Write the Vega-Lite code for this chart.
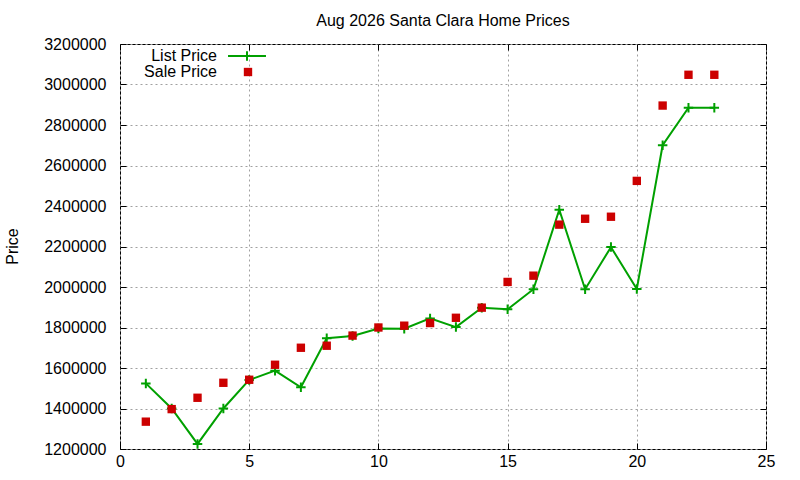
{
  "$schema": "https://vega.github.io/schema/vega-lite/v6.json",
  "autosize": {"type": "none"},
  "padding": {"left": 120, "top": 44, "right": 34, "bottom": 31},
  "width": 646,
  "height": 405,
  "background": "white",
  "config": {
    "font": "Liberation Sans",
    "view": {"stroke": "black", "strokeWidth": 1},
    "axis": {
      "labelFont": "Liberation Sans", "labelFontSize": 16, "labelColor": "black",
      "titleFont": "Liberation Sans", "titleFontSize": 16, "titleColor": "black", "titleFontWeight": "normal",
      "domain": false, "tickColor": "black", "tickSize": -6, "tickWidth": 1,
      "gridColor": "#a0a0a0", "gridDash": [2, 3], "gridWidth": 1
    },
    "legend": {"labelFont": "Liberation Sans", "labelFontSize": 16, "labelColor": "black", "padding": 0, "offset": 0}
  },
  "title": {"text": "Aug 2026 Santa Clara Home Prices", "font": "Liberation Sans", "fontSize": 16, "fontWeight": "normal", "color": "black", "anchor": "middle", "offset": 7},
  "data": {"values": [
    {"x": 1, "price": 1524000, "series": "List Price"},
    {"x": 2, "price": 1400000, "series": "List Price"},
    {"x": 3, "price": 1225000, "series": "List Price"},
    {"x": 4, "price": 1400000, "series": "List Price"},
    {"x": 5, "price": 1541000, "series": "List Price"},
    {"x": 6, "price": 1587000, "series": "List Price"},
    {"x": 7, "price": 1505000, "series": "List Price"},
    {"x": 8, "price": 1747000, "series": "List Price"},
    {"x": 9, "price": 1758000, "series": "List Price"},
    {"x": 10, "price": 1795000, "series": "List Price"},
    {"x": 11, "price": 1794000, "series": "List Price"},
    {"x": 12, "price": 1845000, "series": "List Price"},
    {"x": 13, "price": 1802000, "series": "List Price"},
    {"x": 14, "price": 1898000, "series": "List Price"},
    {"x": 15, "price": 1890000, "series": "List Price"},
    {"x": 16, "price": 1989000, "series": "List Price"},
    {"x": 17, "price": 2382000, "series": "List Price"},
    {"x": 18, "price": 1989000, "series": "List Price"},
    {"x": 19, "price": 2197000, "series": "List Price"},
    {"x": 20, "price": 1990000, "series": "List Price"},
    {"x": 21, "price": 2700000, "series": "List Price"},
    {"x": 22, "price": 2885000, "series": "List Price"},
    {"x": 23, "price": 2885000, "series": "List Price"},
    {"x": 1, "price": 1335000, "series": "Sale Price"},
    {"x": 2, "price": 1397000, "series": "Sale Price"},
    {"x": 3, "price": 1453000, "series": "Sale Price"},
    {"x": 4, "price": 1527000, "series": "Sale Price"},
    {"x": 5, "price": 1542000, "series": "Sale Price"},
    {"x": 6, "price": 1616000, "series": "Sale Price"},
    {"x": 7, "price": 1700000, "series": "Sale Price"},
    {"x": 8, "price": 1710000, "series": "Sale Price"},
    {"x": 9, "price": 1760000, "series": "Sale Price"},
    {"x": 10, "price": 1800000, "series": "Sale Price"},
    {"x": 11, "price": 1809000, "series": "Sale Price"},
    {"x": 12, "price": 1822000, "series": "Sale Price"},
    {"x": 13, "price": 1848000, "series": "Sale Price"},
    {"x": 14, "price": 1898000, "series": "Sale Price"},
    {"x": 15, "price": 2025000, "series": "Sale Price"},
    {"x": 16, "price": 2056000, "series": "Sale Price"},
    {"x": 17, "price": 2308000, "series": "Sale Price"},
    {"x": 18, "price": 2337000, "series": "Sale Price"},
    {"x": 19, "price": 2347000, "series": "Sale Price"},
    {"x": 20, "price": 2524000, "series": "Sale Price"},
    {"x": 21, "price": 2896000, "series": "Sale Price"},
    {"x": 22, "price": 3048000, "series": "Sale Price"},
    {"x": 23, "price": 3048000, "series": "Sale Price"}
  ]},
  "layer": [
    {
      "transform": [{"filter": "datum.series == 'List Price'"}],
      "mark": {"type": "line", "strokeWidth": 2},
      "encoding": {
        "x": {"field": "x", "type": "quantitative", "scale": {"domain": [0, 25], "nice": false},
          "axis": {"values": [0, 5, 10, 15, 20, 25], "title": null, "grid": true, "labelPadding": 10, "labelFlush": false}},
        "y": {"field": "price", "type": "quantitative", "scale": {"domain": [1200000, 3200000], "nice": false, "zero": false},
          "axis": {"values": [1200000, 1400000, 1600000, 1800000, 2000000, 2200000, 2400000, 2600000, 2800000, 3000000, 3200000],
            "format": "d", "title": "Price", "grid": true, "labelPadding": 20, "labelFlush": false,
            "titleX": -108, "titleY": 202, "titleBaseline": "middle", "titleAngle": -90}},
        "color": {"field": "series", "type": "nominal",
          "scale": {"domain": ["List Price"], "range": ["#00a000"]},
          "legend": {"title": null, "orient": "none", "legendX": 119, "legendY": 4,
            "symbolType": "M-4,0H4M0,-1V1", "symbolSize": 90, "symbolStrokeWidth": 2,
            "labelAlign": "right", "labelOffset": -38}}
      }
    },
    {
      "transform": [{"filter": "datum.series == 'List Price'"}],
      "mark": {"type": "point", "shape": "M-1,0H1M0,-1V1", "filled": false, "size": 90, "strokeWidth": 2, "stroke": "#00a000", "opacity": 1},
      "encoding": {
        "x": {"field": "x", "type": "quantitative", "axis": null},
        "y": {"field": "price", "type": "quantitative", "axis": null}
      }
    },
    {
      "transform": [{"filter": "datum.series == 'Sale Price'"}],
      "mark": {"type": "point", "shape": "square", "filled": true, "size": 70, "opacity": 1},
      "encoding": {
        "x": {"field": "x", "type": "quantitative",
          "axis": {"orient": "top", "values": [0, 5, 10, 15, 20, 25], "labels": false, "title": null, "grid": false}},
        "y": {"field": "price", "type": "quantitative",
          "axis": {"orient": "right", "values": [1200000, 1400000, 1600000, 1800000, 2000000, 2200000, 2400000, 2600000, 2800000, 3000000, 3200000], "labels": false, "title": null, "grid": false}},
        "fill": {"field": "series", "type": "nominal",
          "scale": {"domain": ["Sale Price"], "range": ["#cc0000"]},
          "legend": {"title": null, "orient": "none", "legendX": 120, "legendY": 20,
            "symbolType": "square", "symbolSize": 70, "symbolStrokeWidth": 0,
            "labelAlign": "right", "labelOffset": -39}}
      }
    }
  ],
  "resolve": {"axis": {"x": "independent", "y": "independent"}, "legend": {"color": "independent", "fill": "independent"}}
}
